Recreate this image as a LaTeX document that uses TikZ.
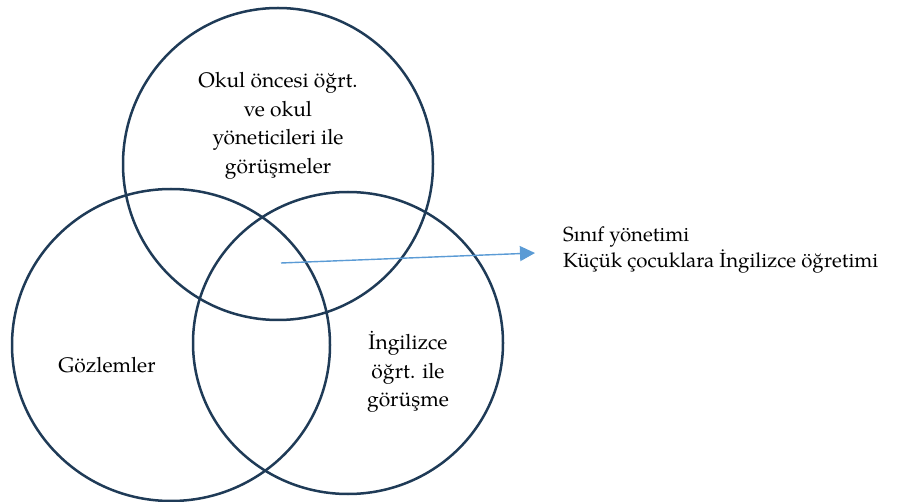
\documentclass[tikz,border=0pt]{standalone}
\usepackage{fontspec}
\setmainfont{TeX Gyre Pagella}
\usetikzlibrary{arrows.meta}
\definecolor{ring}{HTML}{1F3B57}
\definecolor{arrowblue}{HTML}{5B9BD5}
\tikzset{
  ringline/.style={draw=ring, line width=2.5pt},
  lbl/.style={align=center, font=\fontsize{21}{28.5}\selectfont, inner sep=0pt},
  sidelbl/.style={align=left, font=\fontsize{20.4}{26.5}\selectfont, inner sep=0pt, anchor=west},
  pointer/.style={draw=arrowblue, line width=1.4pt, -{Triangle[length=15pt,width=15pt]}}
}
\begin{document}
\begin{tikzpicture}[x=1pt,y=-1pt]
\useasboundingbox (0,0) rectangle (902,502);
\coordinate (ctop) at (278,164);
\coordinate (cleft) at (171,345);
\coordinate (cright) at (348,343);
\draw[ringline] (ctop) ellipse [x radius=155, y radius=156];
\draw[ringline] (cleft) ellipse [x radius=159, y radius=156];
\draw[ringline] (cright) ellipse [x radius=155, y radius=151];
\node[lbl] (ttop) at (278,126) {Okul öncesi öğrt.\\ve okul\\yöneticileri ile\\görüşmeler};
\node[lbl] (tleft) at (107,365) {Gözlemler};
\node[lbl] (tright) at (408,372) {İngilizce\\öğrt. ile\\görüşme};
\node[sidelbl] (side) at (563,250) {Sınıf yönetimi\\Küçük çocuklara İngilizce öğretimi};
\coordinate (src) at (281,263);
\coordinate (tip) at (535,253);
\draw[pointer] (src) -- (tip);
\end{tikzpicture}
\end{document}
